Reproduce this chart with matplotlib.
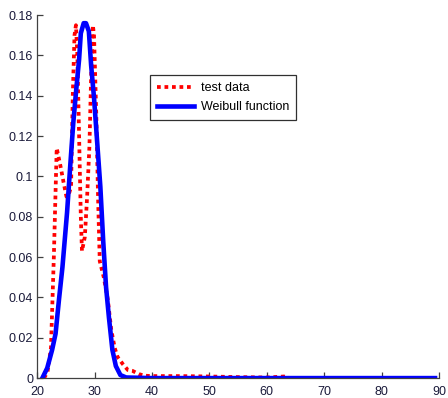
import matplotlib
matplotlib.use("Agg")
import matplotlib.pyplot as plt
from matplotlib.ticker import FormatStrFormatter

plt.rcParams['font.family'] = ['Liberation Sans', 'DejaVu Sans']

# test data (red dotted)
test_x = [21.2, 21.8, 22.4, 22.9, 23.4, 24.0, 24.6, 25.1, 25.6, 25.9, 26.2, 26.5, 26.75,
          27.0, 27.3, 27.6, 27.8, 28.3, 28.7, 29.1, 29.4, 29.7, 29.9, 30.3, 30.6, 30.9,
          31.6, 32.3, 32.9, 33.5, 34.0, 34.9, 35.8, 36.6, 37.7, 38.7, 40, 45, 50, 55,
          60, 63, 64, 70, 80, 89]
test_y = [0.0, 0.003, 0.015, 0.060, 0.114, 0.106, 0.097, 0.090, 0.092, 0.095, 0.140, 0.170, 0.175,
          0.160, 0.120, 0.080, 0.063, 0.070, 0.090, 0.115, 0.150, 0.175, 0.170, 0.130, 0.090, 0.058,
          0.050, 0.039, 0.024, 0.015, 0.0105, 0.007, 0.004, 0.0036, 0.002, 0.0012, 0.001, 0.001, 0.0008, 0.0005,
          0.0003, 0.0008, 0.0, 0.0, 0.0, 0.0]

# Weibull fit (blue)
weib_x = [20.9, 21.75, 22.6, 23.2, 23.8, 24.4, 25.2, 25.8, 26.3, 26.8, 27.3, 27.6, 28.1, 28.5,
          29.0, 29.4, 29.9, 30.5, 31.0, 31.5, 32.0, 32.5, 33.1, 33.7, 34.5, 35.5, 40, 50, 60,
          70, 80, 89.3]
weib_y = [0.0, 0.005, 0.014, 0.022, 0.039, 0.055, 0.082, 0.107, 0.127, 0.143, 0.158, 0.171, 0.176, 0.176,
          0.172, 0.155, 0.139, 0.115, 0.095, 0.068, 0.045, 0.030, 0.014, 0.006, 0.0015, 0.0003, 0.0, 0.0, 0.0,
          0.0, 0.0, 0.0]

fig = plt.figure(figsize=(4.48, 3.98), dpi=100)
ax = fig.add_axes([0.083, 0.050, 0.897, 0.912])

ax.plot(test_x, test_y, color='red', lw=2.7, dashes=(1, 1), label='test data')
ax.plot(weib_x, weib_y, color='blue', lw=3.3, label='Weibull function')

ax.set_xlim(20, 90)
ax.set_ylim(0, 0.18)
ax.set_xticks(range(20, 91, 10))
ax.set_yticks([i * 0.02 for i in range(10)])
ax.yaxis.set_major_formatter(FormatStrFormatter('%g'))

for s in ['top', 'right']:
    ax.spines[s].set_visible(False)
for s in ['left', 'bottom']:
    ax.spines[s].set_color('#404040')
    ax.spines[s].set_linewidth(0.9)
ax.tick_params(direction='in', length=4, width=0.9, labelsize=9, colors='#404040',
               labelcolor='#1a1a3a')
ax.tick_params(axis='x', pad=6)
ax.tick_params(axis='y', pad=3)

leg = ax.legend(loc='upper left', bbox_to_anchor=(0.281, 0.834), fontsize=9,
                fancybox=False, framealpha=1, edgecolor='#303030', handlelength=3.0,
                borderpad=0.55, labelspacing=0.55, handletextpad=0.5, borderaxespad=0)
leg.get_frame().set_linewidth(0.9)

fig.savefig('out.png', dpi=100)
